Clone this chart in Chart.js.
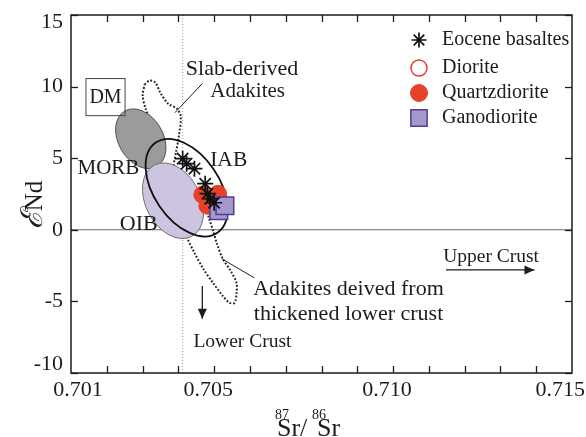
<!DOCTYPE html>
<html>
<head>
<meta charset="utf-8">
<script src="https://cdn.jsdelivr.net/npm/chart.js@4/dist/chart.umd.min.js"></script>
<style>
  html, body { margin: 0; padding: 0; background: #fff; }
  canvas { display: block; }
</style>
</head>
<body>
<canvas id="grafico" width="586" height="437"></canvas>
<script>
// datos
var serieNombres = ['Eocene basaltes', 'Diorite', 'Quartzdiorite', 'Ganodiorite'];

var eoceneSr = [0.70412, 0.70423, 0.70445, 0.70475, 0.70481, 0.70489, 0.70500];
var eoceneNd = [4.97, 4.62, 4.27, 3.22, 2.52, 2.17, 1.89];

var dioriteSr = [0.70497];
var dioriteNd = [1.54];

var qdioriteSr = [0.70467, 0.70511, 0.70481, 0.70497];
var qdioriteNd = [2.45, 2.52, 1.68, 2.03];

var ganoSr = [0.70513, 0.70530];
var ganoNd = [1.33, 1.68];

// campos elipticos: centro, punta del eje mayor y relacion de ejes
var campoNombres = ['MORB', 'OIB', 'IAB'];
var campoCentroSr = [0.70295, 0.70385, 0.70423];
var campoCentroNd = [6.36, 2.03, 2.94];
var campoPuntaSr = [0.70340, 0.70437, 0.70509];
var campoPuntaNd = [4.43, -0.46, -0.21];
var campoRelacion = [0.7, 0.68, 0.6];

// adakitas (contornos punteados)
var slabSr = [0.703057, 0.703194, 0.703358, 0.703495, 0.703712, 0.703959, 0.704068, 0.704014, 0.703932, 0.703822, 0.703604, 0.703385, 0.703443, 0.703221, 0.703249, 0.703085, 0.703003, 0.703057];
var slabNd = [10.14, 10.42, 10.28, 9.58, 8.81, 8.46, 7.90, 6.57, 5.38, 4.13, 2.38, 1.68, 3.43, 6.36, 7.41, 8.46, 9.37, 10.14];

var lowerSr = [0.704123, 0.704260, 0.704451, 0.704697, 0.704970, 0.705243, 0.705434, 0.705571, 0.705626, 0.705626, 0.705462, 0.705243, 0.705079, 0.704970, 0.704861, 0.704724, 0.704396, 0.704123];
var lowerNd = [0.49, -0.63, -1.61, -2.73, -3.71, -4.62, -5.10, -5.10, -4.41, -3.71, -2.87, -2.03, -0.98, -0.07, 0.77, 1.68, 2.03, 0.49];

var refSr = 0.70412;

var xMin = 0.701, xMax = 0.715, yMin = -10, yMax = 15;
var xEtiquetas = [0.701, 0.705, 0.710, 0.715];
var yEtiquetas = [15, 10, 5, 0, -5, -10];

function puntos(xs, ys) {
  var out = [];
  for (var i = 0; i < xs.length; i++) out.push({ x: xs[i], y: ys[i] });
  return out;
}

var FUENTE = '"Liberation Serif", "Times New Roman", serif';
var TINTA = '#1c1c1c';

function P(chart, sr, nd) {
  return { x: chart.scales.x.getPixelForValue(sr), y: chart.scales.y.getPixelForValue(nd) };
}

function texto(ctx, str, x, y, size, align) {
  ctx.font = size + 'px ' + FUENTE;
  ctx.textAlign = align || 'center';
  ctx.textBaseline = 'middle';
  ctx.fillStyle = TINTA;
  ctx.fillText(str, x, y);
}

function linea(ctx, a, b, w) {
  ctx.beginPath();
  ctx.moveTo(a.x, a.y);
  ctx.lineTo(b.x, b.y);
  ctx.lineWidth = w || 1;
  ctx.strokeStyle = TINTA;
  ctx.stroke();
}

function flecha(ctx, a, b) {
  linea(ctx, a, b, 1.3);
  var ang = Math.atan2(b.y - a.y, b.x - a.x);
  var L = 10, W = 4.5;
  ctx.beginPath();
  ctx.moveTo(b.x, b.y);
  ctx.lineTo(b.x - L * Math.cos(ang) + W * Math.sin(ang), b.y - L * Math.sin(ang) - W * Math.cos(ang));
  ctx.lineTo(b.x - L * Math.cos(ang) - W * Math.sin(ang), b.y - L * Math.sin(ang) + W * Math.cos(ang));
  ctx.closePath();
  ctx.fillStyle = TINTA;
  ctx.fill();
}

var estiloCampos = [
  { fill: '#9b9b9b', stroke: '#4d4d4d', width: 1 },
  { fill: '#cdc4e2', stroke: '#6e6e6e', width: 1 },
  { fill: null, stroke: '#111111', width: 1.8 }
];

function dibujarCampos(chart) {
  var ctx = chart.ctx;
  for (var i = 0; i < campoNombres.length; i++) {
    var c = P(chart, campoCentroSr[i], campoCentroNd[i]);
    var t = P(chart, campoPuntaSr[i], campoPuntaNd[i]);
    var a = Math.hypot(t.x - c.x, t.y - c.y);
    var ang = Math.atan2(t.y - c.y, t.x - c.x);
    ctx.save();
    ctx.beginPath();
    ctx.ellipse(c.x, c.y, a, a * campoRelacion[i], ang, 0, Math.PI * 2);
    if (estiloCampos[i].fill) {
      ctx.fillStyle = estiloCampos[i].fill;
      ctx.fill();
    }
    ctx.lineWidth = estiloCampos[i].width;
    ctx.strokeStyle = estiloCampos[i].stroke;
    ctx.stroke();
    ctx.restore();
  }
}

function marcador(ctx, ds, x, y, r) {
  var opts = {
    pointStyle: ds.pointStyle, radius: r, rotation: 0,
    borderWidth: ds.borderWidth
  };
  ctx.save();
  ctx.fillStyle = ds.backgroundColor;
  ctx.strokeStyle = ds.borderColor;
  ctx.lineWidth = ds.borderWidth;
  Chart.helpers.drawPoint(ctx, opts, x, y);
  ctx.restore();
}

var camposHechos = false;

var pluginFigura = {
  id: 'figura',
  beforeDatasetsDraw: function (chart) {
    camposHechos = false;
  },
  beforeDatasetDraw: function (chart, args) {
    var ord = chart.data.datasets[args.index].order || 0;
    if (!camposHechos && ord < 5) {
      dibujarCampos(chart);
      camposHechos = true;
    }
  },
  afterDatasetsDraw: function (chart) {
    var ctx = chart.ctx;
    var area = chart.chartArea;
    var sx = chart.scales.x, sy = chart.scales.y;
    if (!camposHechos) dibujarCampos(chart);

    ctx.save();
    // marco
    ctx.lineWidth = 1.5;
    ctx.strokeStyle = TINTA;
    ctx.strokeRect(area.left, area.top, area.right - area.left, area.bottom - area.top);

    // marcas hacia adentro
    for (var v = 0.702; v < xMax - 0.0005; v += 0.001) {
      var xp = Math.round(sx.getPixelForValue(v)) + 0.5;
      linea(ctx, { x: xp, y: area.bottom }, { x: xp, y: area.bottom - 7 }, 1.3);
      linea(ctx, { x: xp, y: area.top }, { x: xp, y: area.top + 7 }, 1.3);
    }
    for (var k = 0; k < yEtiquetas.length; k++) {
      var yp = Math.round(sy.getPixelForValue(yEtiquetas[k])) + 0.5;
      linea(ctx, { x: area.left, y: yp }, { x: area.left + 7, y: yp }, 1.3);
      linea(ctx, { x: area.right, y: yp }, { x: area.right - 7, y: yp }, 1.3);
    }

    // etiquetas de ejes
    for (k = 0; k < yEtiquetas.length; k++) {
      var yv = sy.getPixelForValue(yEtiquetas[k]);
      if (k === 0) yv += 7;
      if (k === yEtiquetas.length - 1) yv -= 9;
      texto(ctx, String(yEtiquetas[k]), area.left - 8, yv, 22, 'right');
    }
    for (k = 0; k < xEtiquetas.length; k++) {
      var xv = sx.getPixelForValue(xEtiquetas[k]);
      var lab = xEtiquetas[k].toFixed(3);
      if (k === 0) texto(ctx, lab, xv + 7, area.bottom + 17, 22, 'center');
      else if (k === xEtiquetas.length - 1) texto(ctx, lab, chart.width - 1, area.bottom + 17, 22, 'right');
      else texto(ctx, lab, xv - 6, area.bottom + 17, 22, 'center');
    }

    // titulo eje x: 87Sr/86Sr
    ctx.fillStyle = TINTA;
    ctx.textAlign = 'left';
    ctx.textBaseline = 'alphabetic';
    ctx.font = '14px ' + FUENTE;
    ctx.fillText('87', 275, 419);
    ctx.fillText('86', 312, 419);
    ctx.font = '26px ' + FUENTE;
    ctx.fillText('Sr/', 277, 436);
    ctx.fillText('Sr', 317, 436);

    // titulo eje y
    ctx.save();
    ctx.translate(33, 205);
    ctx.rotate(-Math.PI / 2);
    ctx.font = 'italic 30px "DejaVu Serif", ' + FUENTE;
    var w1 = ctx.measureText('\u2130').width;
    ctx.font = '25px ' + FUENTE;
    var w2 = ctx.measureText('Nd').width;
    var x0 = -(w1 + w2) / 2;
    ctx.textAlign = 'left';
    ctx.textBaseline = 'alphabetic';
    ctx.font = 'italic 30px "DejaVu Serif", ' + FUENTE;
    ctx.fillText('\u2130', x0, 9);
    ctx.font = '25px ' + FUENTE;
    ctx.fillText('Nd', x0 + w1, 9);
    ctx.restore();

    // anotaciones
    var b1 = P(chart, 0.701418, 10.56), b2 = P(chart, 0.702511, 7.97);
    ctx.lineWidth = 1;
    ctx.strokeStyle = '#444';
    ctx.strokeRect(b1.x, b1.y, b2.x - b1.x, b2.y - b1.y);
    var q = P(chart, 0.701965, 9.23); texto(ctx, 'DM', q.x, q.y, 20);
    q = P(chart, 0.702046, 4.27); texto(ctx, 'MORB', q.x, q.y, 21);
    q = P(chart, 0.702893, 0.42); texto(ctx, 'OIB', q.x, q.y, 22);
    q = P(chart, 0.705407, 4.83); texto(ctx, 'IAB', q.x, q.y, 21.5);
    q = P(chart, 0.704210, 11.19); texto(ctx, 'Slab-derived', q.x, q.y, 22, 'left');
    q = P(chart, 0.704893, 9.65); texto(ctx, 'Adakites', q.x, q.y, 21, 'left');
    linea(ctx, P(chart, 0.704669, 10.21), P(chart, 0.703904, 8.18), 1);
    q = P(chart, 0.706090, -4.13); texto(ctx, 'Adakites deived from', q.x, q.y, 22, 'left');
    q = P(chart, 0.706110, -5.87); texto(ctx, 'thickened lower crust', q.x, q.y, 22, 'left');
    linea(ctx, P(chart, 0.705221, -2.03), P(chart, 0.706123, -3.36), 1);
    q = P(chart, 0.704420, -7.83); texto(ctx, 'Lower Crust', q.x, q.y, 19.5, 'left');
    flecha(ctx, P(chart, 0.704669, -3.92), P(chart, 0.704669, -6.22));
    q = P(chart, 0.711400, -1.89); texto(ctx, 'Upper Crust', q.x, q.y, 19.5, 'left');
    flecha(ctx, P(chart, 0.711480, -2.80), P(chart, 0.713950, -2.80));

    // leyenda
    var ly = [40, 68, 93, 118];
    var lr = [7.5, 8, 8.5, 11.5];
    for (k = 0; k < serieNombres.length; k++) {
      marcador(ctx, chart.data.datasets[k], 419, ly[k], lr[k]);
      texto(ctx, serieNombres[k], 442, ly[k], 20, 'left');
    }
    ctx.restore();
  }
};

var datos = {
  datasets: [
    {
      label: serieNombres[0], data: puntos(eoceneSr, eoceneNd), order: 0,
      pointStyle: 'star', pointRadius: 8, borderWidth: 1.7,
      borderColor: '#111', backgroundColor: '#111', showLine: false
    },
    {
      label: serieNombres[1], data: puntos(dioriteSr, dioriteNd), order: 2,
      pointStyle: 'circle', pointRadius: 7.5, borderWidth: 1.5,
      borderColor: '#e5432c', backgroundColor: 'rgba(255,255,255,0)', showLine: false
    },
    {
      label: serieNombres[2], data: puntos(qdioriteSr, qdioriteNd), order: 3,
      pointStyle: 'circle', pointRadius: 8.5, borderWidth: 1,
      borderColor: '#e5432c', backgroundColor: '#e8402a', showLine: false
    },
    {
      label: serieNombres[3], data: puntos(ganoSr, ganoNd), order: 1,
      pointStyle: 'rect', pointRadius: 12.5, borderWidth: 1.5,
      borderColor: '#4f3f8f', backgroundColor: '#a698cf', showLine: false
    },
    {
      label: 'Slab-derived Adakites', data: puntos(slabSr, slabNd), order: 10,
      showLine: true, pointRadius: 0, tension: 0.3, borderWidth: 2,
      borderColor: '#222', borderDash: [1.8, 1.8], fill: false
    },
    {
      label: 'Adakites from thickened lower crust', data: puntos(lowerSr, lowerNd), order: 11,
      showLine: true, pointRadius: 0, tension: 0.3, borderWidth: 2,
      borderColor: '#222', borderDash: [1.8, 1.8], fill: false
    },
    {
      label: 'ref', data: [{ x: refSr, y: yMin }, { x: refSr, y: yMax }], order: 20,
      showLine: true, pointRadius: 0, borderWidth: 1,
      borderColor: '#9a9a9a', borderDash: [1, 2]
    },
    {
      label: 'cero', data: [{ x: xMin, y: 0 }, { x: xMax, y: 0 }], order: 21,
      showLine: true, pointRadius: 0, borderWidth: 1.1,
      borderColor: '#6a6a6a'
    }
  ]
};

new Chart(document.getElementById('grafico'), {
  type: 'scatter',
  data: datos,
  options: {
    responsive: false,
    animation: false,
    events: [],
    layout: { padding: { left: 71, top: 15, right: 3, bottom: 64 } },
    plugins: {
      legend: { display: false },
      tooltip: { enabled: false }
    },
    scales: {
      x: { type: 'linear', min: xMin, max: xMax, display: false },
      y: { type: 'linear', min: yMin, max: yMax, display: false }
    }
  },
  plugins: [pluginFigura]
});
</script>
</body>
</html>
